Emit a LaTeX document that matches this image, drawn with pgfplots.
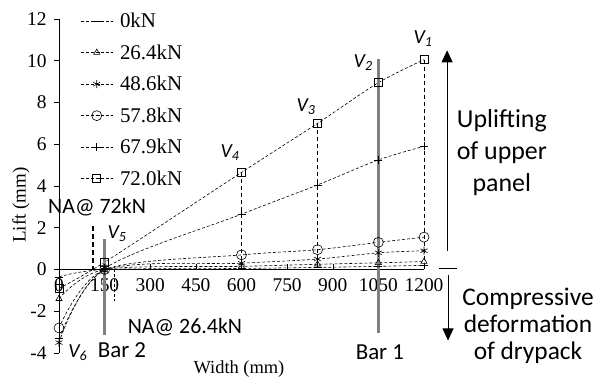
\documentclass[border=0pt]{standalone}
\usepackage{pgfplots}
\pgfplotsset{compat=1.18}
\usetikzlibrary{arrows.meta}
\usepackage{fontspec}
\setmainfont{Liberation Serif}
\newfontfamily\calib{Carlito}
\begin{document}
\begin{tikzpicture}
\useasboundingbox (-59bp,-32bp) rectangle (540bp,353bp);
\begin{axis}[
  at={(0,0)}, anchor=south west,
  scale only axis, width=365bp, height=334bp,
  xmin=0, xmax=1200, ymin=-4, ymax=12,
  axis x line=middle, axis y line=left,
  axis line style={-, black, line width=0.6bp},
  hide obscured x ticks=false, hide obscured y ticks=false,
  xtick={0,150,300,450,600,750,900,1050,1200},
  ytick={-4,-2,0,2,4,6,8,10,12},
  yticklabels={-4,-2,0,2,4,6,8,10,12},
  /pgf/number format/.cd, assume math mode=true, 1000 sep={},
  /pgfplots/.cd,
  tick label style={font=\rmfamily\fontsize{19.5}{21}\selectfont},
  xticklabel style={yshift=-6bp},
  yticklabel style={xshift=-4bp},
  x tick style={black, line width=0.5bp},
  y tick style={black, line width=0.5bp},
  ytick align=outside, xtick align=inside,
  major tick length=5bp,
  clip=false,
  xlabel={Width (mm)},
  ylabel={Lift (mm)},
  xlabel style={font=\rmfamily\fontsize{18.5}{20}\selectfont, at={(rel axis cs:0.493,-0.048)}, anchor=center},
  ylabel style={font=\rmfamily\fontsize{19}{21}\selectfont, at={(rel axis cs:-0.104,0.443)}, anchor=center},
  legend style={at={(rel axis cs:0.05,1.03)}, anchor=north west, draw=none, fill=none,
    font=\rmfamily\fontsize{21}{22}\selectfont, row sep=11.5bp, column sep=5bp, cells={anchor=west}},
  legend cell align=left,
  legend image code/.code={\draw[mark repeat=2,mark phase=2] plot coordinates {(0bp,0bp) (16bp,0bp) (32bp,0bp)};},
  every axis plot/.append style={black, line width=0.6bp, dash pattern=on 3bp off 2bp, smooth, mark options={solid, black, line width=0.6bp}},
]
% 0 kN
\addplot[mark=-, mark size=4bp] coordinates {(0,-0.35) (150,0) (600,0.05) (850,0.1) (1050,0.15) (1200,0.2)};
\addlegendentry{0kN}
% 26.4 kN
\addplot[mark=triangle, mark size=3.5bp] coordinates {(0,-1.4) (150,0) (600,0.15) (850,0.25) (1050,0.32) (1200,0.38)};
\addlegendentry{26.4kN}
% 48.6 kN
\addplot[mark=asterisk, mark size=4bp] coordinates {(0,-3.5) (150,-0.05) (600,0.3) (850,0.5) (1050,0.8) (1200,0.9)};
\addlegendentry{48.6kN}
% 57.8 kN
\addplot[mark=o, mark size=5bp] coordinates {(0,-2.8) (150,0) (600,0.7) (850,0.95) (1050,1.3) (1200,1.55)};
\addlegendentry{57.8kN}
% 67.9 kN
\addplot[mark=+, mark size=4bp] coordinates {(0,-3.3) (150,0.05) (600,2.65) (850,4.05) (1050,5.25) (1200,5.9)};
\addlegendentry{67.9kN}
% 72.0 kN
\addplot[mark=square, mark size=4bp] coordinates {(0,-0.9) (150,0.35) (600,4.65) (850,7.0) (1050,8.95) (1200,10.05)};
\addlegendentry{72.0kN}

% drop lines from the 72.0 kN points
\addplot[forget plot, no marks, sharp plot, line width=0.6bp, dash pattern=on 4bp off 3bp] coordinates {(600,4.65) (600,0)};
\addplot[forget plot, no marks, sharp plot, line width=0.6bp, dash pattern=on 4bp off 3bp] coordinates {(850,7.0) (850,0)};
\addplot[forget plot, no marks, sharp plot, line width=0.6bp, dash pattern=on 4bp off 3bp] coordinates {(1200,10.05) (1200,0)};
% bars
\addplot[forget plot, no marks, sharp plot, solid, draw=gray, line width=2.5bp] coordinates {(1050,10.1) (1050,-3.05)};
\addplot[forget plot, no marks, sharp plot, solid, draw=gray, line width=2.5bp] coordinates {(150,1.44) (150,-3.16)};
% neutral axes
\addplot[forget plot, no marks, sharp plot, line width=1.4bp, dash pattern=on 5bp off 3bp] coordinates {(112,2.1) (112,0)};
\addplot[forget plot, no marks, sharp plot, line width=0.6bp, dash pattern=on 3bp off 2bp] coordinates {(181,0) (181,-1.5)};

% arrows
\draw[line width=0.8bp, -{Triangle[length=12bp,width=11bp]}] (axis cs:1276,0.91) -- (axis cs:1276,10.5);
\draw[line width=0.8bp] (axis cs:1249,0.05) -- (axis cs:1308,0.05);
\draw[line width=0.8bp, -{Triangle[length=12bp,width=11bp]}] (axis cs:1279,-0.24) -- (axis cs:1279,-3.4);

% texts
\node[font=\calib\fontsize{26}{32}\selectfont, align=center] at (axis cs:1456,5.6) {Uplifting\\of upper\\panel};
\node[font=\calib\fontsize{25.5}{27}\selectfont, align=center] at (axis cs:1542,-2.7) {Compressive\\deformation\\of drypack};
\node[font=\calib\itshape\fontsize{20}{22}\selectfont] at (axis cs:1197,11.07) {V\textsubscript{1}};
\node[font=\calib\itshape\fontsize{20}{22}\selectfont] at (axis cs:1000,9.92) {V\textsubscript{2}};
\node[font=\calib\itshape\fontsize{20}{22}\selectfont] at (axis cs:812,7.78) {V\textsubscript{3}};
\node[font=\calib\itshape\fontsize{20}{22}\selectfont] at (axis cs:562,5.6) {V\textsubscript{4}};
\node[font=\calib\itshape\fontsize{20}{22}\selectfont] at (axis cs:191,1.72) {V\textsubscript{5}};
\node[font=\calib\itshape\fontsize{20}{22}\selectfont] at (axis cs:62,-3.97) {V\textsubscript{6}};
\node[font=\calib\fontsize{23}{25}\selectfont] at (axis cs:207,-3.88) {Bar 2};
\node[font=\calib\fontsize{23}{25}\selectfont] at (axis cs:1055,-3.97) {Bar 1};
\node[font=\calib\fontsize{22}{24}\selectfont] at (axis cs:125,2.99) {NA@ 72kN};
\node[font=\calib\fontsize{22}{24}\selectfont] at (axis cs:414,-2.77) {NA@ 26.4kN};
\end{axis}
\end{tikzpicture}
\end{document}
